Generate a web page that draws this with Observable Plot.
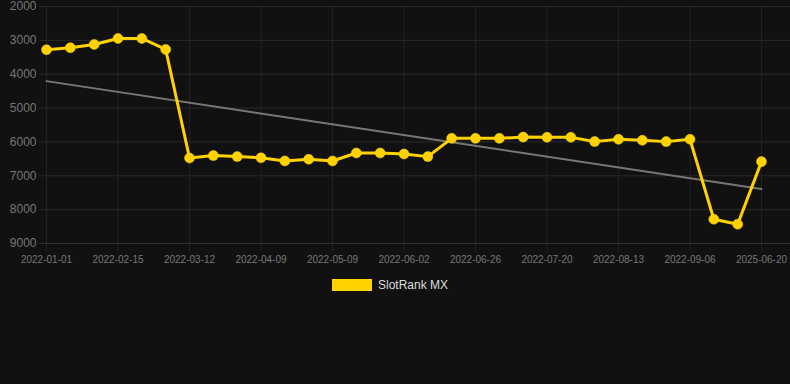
<!DOCTYPE html>
<html>
<head>
<meta charset="utf-8">
<script src="https://cdn.jsdelivr.net/npm/d3@7"></script>
<script src="https://cdn.jsdelivr.net/npm/@observablehq/plot@0.6"></script>
<style>
  html, body { margin: 0; padding: 0; background: #111111; }
  #chart { width: 790px; height: 384px; position: relative; overflow: hidden; font-family: "Liberation Sans", Arial, sans-serif; }
  #legend { display: flex; justify-content: center; align-items: center; gap: 6px; margin-top: 13px; padding-right: 10px; color: #dddddd; font-size: 12px; }
  #legend .sw { width: 40px; height: 12px; background: #FFD200; }
  svg { display: block; }
</style>
</head>
<body>
<div id="chart"></div>
<script>
// Rank values, one per observation (lower rank plotted at top)
const ranks = [3277, 3218, 3121, 2944, 2944, 3268,
  6475, 6404, 6434, 6469, 6563, 6513, 6563, 6327, 6327, 6357, 6434,
  5894, 5894, 5894, 5858, 5864, 5864, 5991, 5923, 5953, 5991, 5923,
  8283, 8431, 6581];
// x-axis tick labels shown every third observation
const tickIdx = [0, 3, 6, 9, 12, 15, 18, 21, 24, 27, 30];
const tickLabels = ["2022-01-01", "2022-02-15", "2022-03-12", "2022-04-09", "2022-05-09",
  "2022-06-02", "2022-06-26", "2022-07-20", "2022-08-13", "2022-09-06", "2025-06-20"];
// trend line end values
const trendIdx = [0, 30];
const trendVals = [4204, 7389];
const yTicks = [2000, 3000, 4000, 5000, 6000, 7000, 8000, 9000];
const seriesName = "SlotRank MX";

const data = ranks.map((v, i) => ({i, v}));
const trend = trendIdx.map((i, k) => ({i, v: trendVals[k]}));
const labelOf = new Map(tickIdx.map((t, k) => [t, tickLabels[k]]));

const gold = "#FFD200";
const plot = Plot.plot({
  width: 790,
  height: 265,
  marginTop: 6,
  marginBottom: 22,
  marginLeft: 39,
  marginRight: 0,
  style: {background: "#111111", color: "#777777", fontFamily: "Liberation Sans, Arial, sans-serif"},
  x: {type: "linear", domain: [-0.294, 31.217], axis: null},
  y: {type: "linear", domain: [2000, 9000], reverse: true, axis: null},
  marks: [
    Plot.gridY({ticks: yTicks, stroke: "#2a2a2a", strokeOpacity: 1, strokeWidth: 1}),
    Plot.gridX({ticks: tickIdx, stroke: "#222222", strokeOpacity: 1, strokeWidth: 1}),
    Plot.axisX({ticks: tickIdx, tickFormat: d => labelOf.get(d), tickSize: 9, tickPadding: 3, stroke: "#222222", fill: "#777777", fontSize: 10, label: null}),
    Plot.axisY({ticks: yTicks, tickSize: 0, tickPadding: 3, fill: "#777777", fontSize: 12, tickFormat: d => String(d), label: null}),
    Plot.ruleY([9000], {stroke: "#2e2e2e"}),
    Plot.line(trend, {x: "i", y: "v", stroke: "#777777", strokeWidth: 2}),
    Plot.line(data, {x: "i", y: "v", stroke: gold, strokeWidth: 3}),
    Plot.dot(data, {x: "i", y: "v", r: 5, fill: gold, stroke: gold, strokeWidth: 0.5})
  ]
});
const chart = document.getElementById("chart");
chart.appendChild(plot);
const legend = document.createElement("div");
legend.id = "legend";
legend.innerHTML = '<span class="sw"></span><span></span>';
legend.lastChild.textContent = seriesName;
chart.appendChild(legend);
</script>
</body>
</html>
